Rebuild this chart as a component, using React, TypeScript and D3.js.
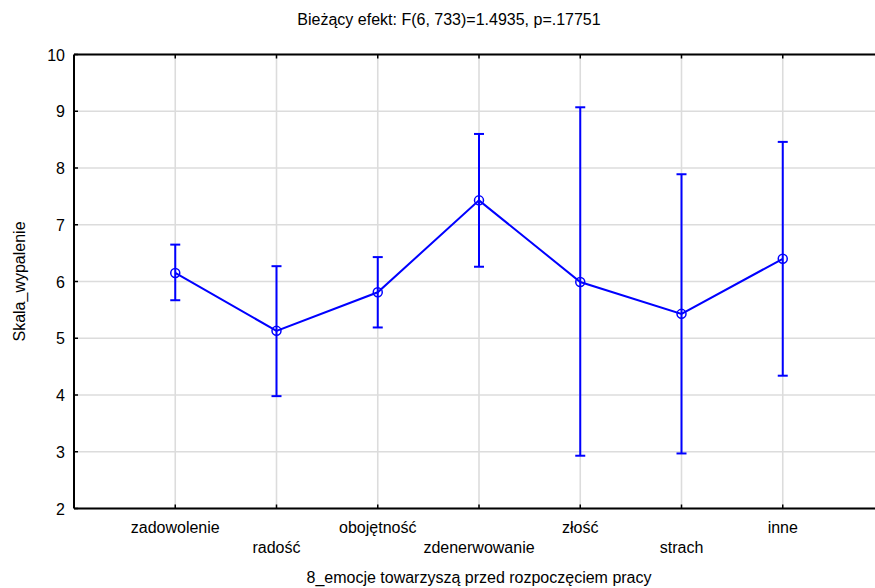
import React from "react";
import * as d3 from "d3";

const categories = ["zadowolenie", "radość", "obojętność", "zdenerwowanie", "złość", "strach", "inne"];
const means = [6.15, 5.13, 5.81, 7.43, 5.99, 5.43, 6.40];
const upper = [6.65, 6.27, 6.43, 8.60, 9.07, 7.89, 8.46];
const lower = [5.67, 3.98, 5.19, 6.26, 2.93, 2.97, 4.34];
const yTicks = [2, 3, 4, 5, 6, 7, 8, 9, 10];
const title = "Bieżący efekt: F(6, 733)=1.4935, p=.17751";
const xTitle = "8_emocje towarzyszą przed rozpoczęciem pracy";
const yTitle = "Skala_wypalenie";

export default function App() {
  const W = 875, H = 588;
  const left = 74, right = 884, top = 54.5, bottom = 508.5;
  const x = d3.scalePoint<string>().domain(categories).range([left, right]).padding(1);
  const y = d3.scaleLinear().domain([2, 10]).range([bottom, top]);
  const line = d3.line<number>().x((_, i) => x(categories[i])!).y((d) => y(d));
  const font = "Arial, 'Liberation Sans', sans-serif";
  const blue = "#0000ff";
  const grid = "#dcdcdc";
  const fs = 16;
  return (
    <svg width={W} height={H} style={{ position: "absolute", left: 0, top: 0 }} fontFamily={font}>
      <rect width={W} height={H} fill="#fff" />
      <text x={449} y={25} fontSize={fs} textAnchor="middle" fill="#000">{title}</text>
      {yTicks.map((t) => (
        <g key={t}>
          <line x1={left} x2={right} y1={y(t)} y2={y(t)} stroke={grid} strokeWidth={1.6} />
          <line x1={left} x2={left + 4} y1={y(t)} y2={y(t)} stroke="#000" strokeWidth={1.5} />
          <text x={65} y={y(t) + 6} fontSize={fs} textAnchor="end" fill="#000">{t}</text>
        </g>
      ))}
      {categories.map((c, i) => (
        <g key={c}>
          <line x1={x(c)} x2={x(c)} y1={top} y2={bottom} stroke={grid} strokeWidth={1.6} />
          <line x1={x(c)} x2={x(c)} y1={top} y2={top + 4} stroke="#000" strokeWidth={1.5} />
          <line x1={x(c)} x2={x(c)} y1={bottom} y2={bottom - 4} stroke="#000" strokeWidth={1.5} />
          <text x={x(c)} y={i % 2 === 0 ? 533 : 553} fontSize={fs} textAnchor="middle" fill="#000">{c}</text>
        </g>
      ))}
      <line x1={left} x2={right} y1={top} y2={top} stroke="#000" strokeWidth={2} />
      <line x1={left} x2={right} y1={bottom} y2={bottom} stroke="#000" strokeWidth={2} />
      <line x1={left} x2={left} y1={top} y2={bottom} stroke="#000" strokeWidth={2} />
      {categories.map((c, i) => (
        <g key={"e" + c} stroke={blue} strokeWidth={2}>
          <line x1={x(c)} x2={x(c)} y1={y(upper[i])} y2={y(lower[i])} />
          <line x1={x(c)! - 5} x2={x(c)! + 5} y1={y(upper[i])} y2={y(upper[i])} />
          <line x1={x(c)! - 5} x2={x(c)! + 5} y1={y(lower[i])} y2={y(lower[i])} />
        </g>
      ))}
      <path d={line(means) || ""} fill="none" stroke={blue} strokeWidth={2} />
      {categories.map((c, i) => (
        <circle key={"p" + c} cx={x(c)} cy={y(means[i])} r={4.5} fill="none" stroke={blue} strokeWidth={1.5} />
      ))}
      <text x={479} y={583} fontSize={fs} textAnchor="middle" fill="#000">{xTitle}</text>
      <text transform={`translate(25, ${(top + bottom) / 2}) rotate(-90)`} fontSize={fs} textAnchor="middle" fill="#000">{yTitle}</text>
    </svg>
  );
}
